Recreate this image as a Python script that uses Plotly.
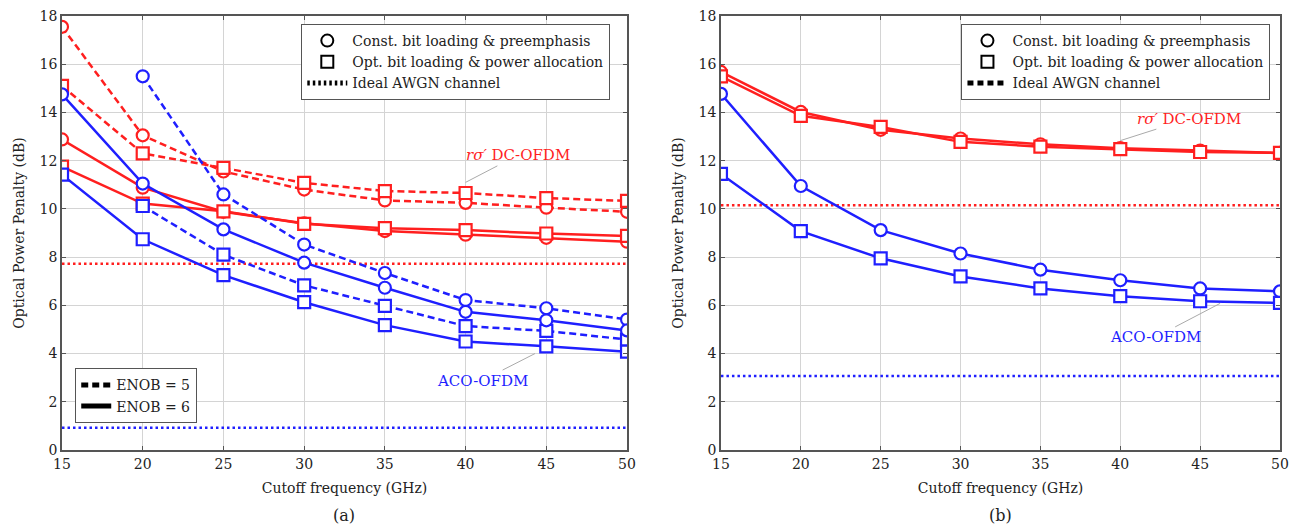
import plotly.graph_objects as go

freq = [15, 20, 25, 30, 35, 40, 45, 50]

# Panel (a)
a_dc_const_e5 = [17.55, 13.05, 11.55, 10.8, 10.35, 10.25, 10.05, 9.88]
a_dc_opt_e5 = [15.1, 12.3, 11.7, 11.08, 10.74, 10.66, 10.45, 10.33]
a_dc_const_e6 = [12.88, 10.88, 9.88, 9.4, 9.08, 8.93, 8.8, 8.64]
a_dc_opt_e6 = [11.75, 10.22, 9.9, 9.38, 9.2, 9.12, 8.98, 8.88]
a_aco_const_e5 = [None, 15.5, 10.6, 8.52, 7.34, 6.22, 5.88, 5.41]
a_aco_opt_e5 = [None, 10.12, 8.1, 6.83, 5.98, 5.14, 4.94, 4.58]
a_aco_const_e6 = [14.75, 11.05, 9.15, 7.77, 6.73, 5.73, 5.38, 4.96]
a_aco_opt_e6 = [11.42, 8.74, 7.25, 6.13, 5.18, 4.5, 4.3, 4.08]
a_ideal_dc = 7.72
a_ideal_aco = 0.92

# Panel (b)
b_dc_const = [15.68, 14.02, 13.28, 12.92, 12.68, 12.52, 12.42, 12.32]
b_dc_opt = [15.5, 13.86, 13.4, 12.78, 12.58, 12.48, 12.36, 12.32]
b_aco_const = [14.77, 10.95, 9.12, 8.15, 7.48, 7.04, 6.7, 6.58]
b_aco_opt = [11.45, 9.08, 7.95, 7.2, 6.7, 6.38, 6.17, 6.1]
b_ideal_dc = 10.15
b_ideal_aco = 3.07

yticks = [0, 2, 4, 6, 8, 10, 12, 14, 16, 18]
xticks = [15, 20, 25, 30, 35, 40, 45, 50]

RED = "#ff1f1f"
BLUE = "#1f1fff"
FONT = "DejaVu Serif, Liberation Serif, serif"
DASH = "7px,4px"
DOT = "2.5px,3px"

fig = go.Figure()


def series(y, color, symbol, dash, xa, ya):
    fig.add_trace(go.Scatter(
        x=freq, y=y, xaxis=xa, yaxis=ya, mode="lines+markers",
        line=dict(color=color, width=2.5, dash=dash),
        marker=dict(symbol=symbol, size=12, color="white",
                    line=dict(color=color, width=2.2)),
        showlegend=False, connectgaps=False))


def ideal(v, color, xa, ya):
    fig.add_trace(go.Scatter(
        x=[freq[0], freq[-1]], y=[v, v], xaxis=xa, yaxis=ya, mode="lines",
        line=dict(color=color, width=2.5, dash=DOT), showlegend=False))


# panel a
ideal(a_ideal_dc, RED, "x", "y")
ideal(a_ideal_aco, BLUE, "x", "y")
series(a_dc_const_e5, RED, "circle", DASH, "x", "y")
series(a_dc_opt_e5, RED, "square", DASH, "x", "y")
series(a_dc_const_e6, RED, "circle", "solid", "x", "y")
series(a_dc_opt_e6, RED, "square", "solid", "x", "y")
series(a_aco_const_e5, BLUE, "circle", DASH, "x", "y")
series(a_aco_opt_e5, BLUE, "square", DASH, "x", "y")
series(a_aco_const_e6, BLUE, "circle", "solid", "x", "y")
series(a_aco_opt_e6, BLUE, "square", "solid", "x", "y")

# panel b
ideal(b_ideal_dc, RED, "x2", "y2")
ideal(b_ideal_aco, BLUE, "x2", "y2")
series(b_dc_const, RED, "circle", "solid", "x2", "y2")
series(b_dc_opt, RED, "square", "solid", "x2", "y2")
series(b_aco_const, BLUE, "circle", "solid", "x2", "y2")
series(b_aco_opt, BLUE, "square", "solid", "x2", "y2")


def leg_marker(name, symbol, legend):
    fig.add_trace(go.Scatter(
        x=[None], y=[None], mode="markers", name=name, legend=legend,
        marker=dict(symbol=symbol, size=12, color="white",
                    line=dict(color="black", width=2.2))))


def leg_line(name, dash, legend):
    fig.add_trace(go.Scatter(
        x=[None], y=[None], mode="lines", name=name, legend=legend,
        line=dict(color="black", width=2.5, dash=dash)))


leg_marker("Const. bit loading &amp; preemphasis", "circle", "legend")
leg_marker("Opt. bit loading &amp; power allocation", "square", "legend")
leg_line("Ideal AWGN channel", DOT, "legend")
leg_line("ENOB = 5", DASH, "legend2")
leg_line("ENOB = 6", "solid", "legend2")
leg_marker("Const. bit loading &amp; preemphasis", "circle", "legend3")
leg_marker("Opt. bit loading &amp; power allocation", "square", "legend3")
leg_line("Ideal AWGN channel", "6px,4px", "legend3")

legstyle = dict(bgcolor="white", bordercolor="#555", borderwidth=1.2,
                font=dict(family=FONT, size=14, color="#222"),
                tracegroupgap=0, itemsizing="constant")

axis_common = dict(showgrid=True, gridcolor="#d4d4d4", gridwidth=1,
                   showline=True, linecolor="#555", linewidth=1.5,
                   mirror="allticks", ticks="inside", ticklen=4,
                   tickcolor="#555", zeroline=False, automargin=False,
                   ticklabeloverflow="allow",
                   tickfont=dict(family=FONT, size=14, color="#222"))

xa = dict(axis_common, range=[15, 50], tickvals=xticks,
          title=dict(text="Cutoff frequency (GHz)", standoff=13,
                     font=dict(family=FONT, size=14, color="#222")))
ya = dict(axis_common, range=[0, 18], tickvals=yticks,
          title=dict(text="Optical Power Penalty (dB)", standoff=12,
                     font=dict(family=FONT, size=14, color="#222")))

# the page body adds an 8px offset, so the figure is sized to fit the window
fig.update_layout(
    width=1303, height=519,
    margin=dict(l=54, r=31, t=8, b=77),
    paper_bgcolor="white", plot_bgcolor="white",
    xaxis=dict(xa, domain=[0, 0.4639], anchor="y"),
    yaxis=dict(ya, domain=[0, 1], anchor="x"),
    xaxis2=dict(xa, domain=[0.541, 1], anchor="y2"),
    yaxis2=dict(ya, domain=[0, 1], anchor="x2"),
    legend=dict(legstyle, x=0.45, y=0.982, xanchor="right", yanchor="top",
                itemwidth=40),
    legend2=dict(legstyle, x=0.0107, y=0.062, xanchor="left", yanchor="bottom"),
    legend3=dict(legstyle, x=0.992, y=0.982, xanchor="right", yanchor="top",
                 itemwidth=40),
    font=dict(family=FONT),
)

ann_font_red = dict(family=FONT, size=15, color=RED)
ann_font_blue = dict(family=FONT, size=15, color=BLUE)
fig.add_annotation(xref="x", yref="y", x=40, y=11.1, ax=52, ay=-27,
                   text="<i>rσ′</i> DC-OFDM", font=ann_font_red,
                   showarrow=True, arrowhead=0, arrowcolor="#aaa", arrowwidth=1)
fig.add_annotation(xref="x", yref="y", x=44.3, y=4.0, ax=-53, ay=27,
                   text="ACO-OFDM", font=ann_font_blue,
                   showarrow=True, arrowhead=0, arrowcolor="#aaa", arrowwidth=1)
fig.add_annotation(xref="x2", yref="y2", x=40, y=12.83, ax=69, ay=-22,
                   text="<i>rσ′</i> DC-OFDM", font=ann_font_red,
                   showarrow=True, arrowhead=0, arrowcolor="#aaa", arrowwidth=1)
fig.add_annotation(xref="x2", yref="y2", x=46.25, y=6.08, ax=-65, ay=34,
                   text="ACO-OFDM", font=ann_font_blue,
                   showarrow=True, arrowhead=0, arrowcolor="#aaa", arrowwidth=1)

fig.add_annotation(xref="paper", yref="paper", x=0.2318, y=-0.152,
                   xanchor="center", yanchor="middle", text="(a)", showarrow=False,
                   font=dict(family=FONT, size=16, color="#222"))
fig.add_annotation(xref="paper", yref="paper", x=0.7705, y=-0.152,
                   xanchor="center", yanchor="middle", text="(b)", showarrow=False,
                   font=dict(family=FONT, size=16, color="#222"))

fig.write_html("out.html")
